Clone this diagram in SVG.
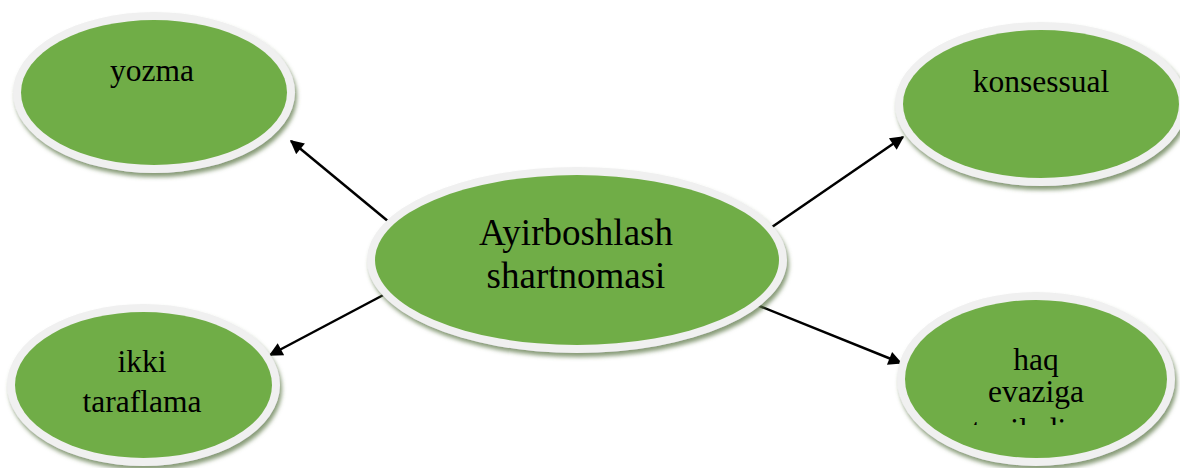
<svg xmlns="http://www.w3.org/2000/svg" width="1180" height="468" viewBox="0 0 1180 468">
<style>
.ring{fill:#f0f0f0;filter:url(#sh)}
.fill{fill:#70ad47}
.t{font-family:"Liberation Serif","Times New Roman",serif;fill:#000;text-anchor:middle;font-size:31.5px}
.tc{font-size:37px}
.con{stroke:#000;stroke-width:2.5;fill:none;marker-end:url(#ah)}
</style>
<defs>
<filter id="sh" x="-10%" y="-10%" width="125%" height="130%">
<feDropShadow dx="2" dy="4" stdDeviation="2" flood-color="#5f7a4a" flood-opacity="0.75"/>
</filter>
<marker id="ah" viewBox="0 0 10 10" refX="9" refY="5" markerWidth="6.5" markerHeight="5.5" markerUnits="strokeWidth" orient="auto">
<path d="M0,0 L10,5 L0,10 z" fill="#000"/>
</marker>
<clipPath id="clipHaq"><rect x="890" y="290" width="290" height="135"/></clipPath>
</defs>
<rect width="1180" height="468" fill="#fff"/>
<g id="connectors">
<line class="con" x1="389" y1="222" x2="291" y2="141"/>
<line class="con" x1="772" y1="227" x2="903" y2="137"/>
<line class="con" x1="389" y1="292" x2="270" y2="355"/>
<line class="con" x1="757" y1="305" x2="901" y2="363"/>
</g>
<g id="node-center">
<ellipse class="ring" cx="577" cy="260" rx="210" ry="93"/>
<ellipse class="fill" cx="577" cy="260" rx="202" ry="85"/>
<text class="t tc" x="576" y="245">Ayirboshlash</text>
<text class="t tc" x="576" y="288">shartnomasi</text>
</g>
<g id="node-yozma">
<ellipse class="ring" cx="154" cy="92.5" rx="141" ry="80.5"/>
<ellipse class="fill" cx="154" cy="92.5" rx="133" ry="72.5"/>
<text class="t" x="152" y="81">yozma</text>
</g>
<g id="node-ikki">
<ellipse class="ring" cx="143.5" cy="385" rx="136.5" ry="81"/>
<ellipse class="fill" cx="143.5" cy="385" rx="128.5" ry="73"/>
<text class="t" x="142" y="372">ikki</text>
<text class="t" x="142" y="412">taraflama</text>
</g>
<g id="node-konsessual">
<ellipse class="ring" cx="1041" cy="104" rx="146" ry="82"/>
<ellipse class="fill" cx="1041" cy="104" rx="138" ry="74"/>
<text class="t" x="1041" y="92">konsessual</text>
</g>
<g id="node-haq">
<ellipse class="ring" cx="1036" cy="379" rx="139" ry="87"/>
<ellipse class="fill" cx="1036" cy="379" rx="131" ry="79"/>
<text class="t" x="1036" y="370">haq</text>
<text class="t" x="1036" y="402">evaziga</text>
<g clip-path="url(#clipHaq)"><text class="t" x="1019" y="440">tuziladi</text></g>
</g>
</svg>
